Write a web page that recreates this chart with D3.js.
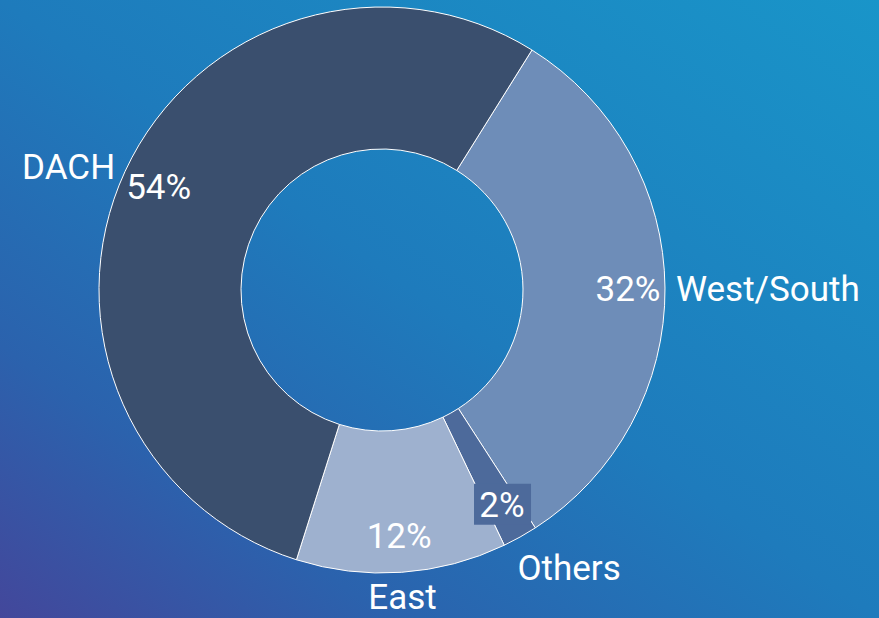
<!DOCTYPE html>
<html>
<head>
<meta charset="utf-8">
<script src="https://cdn.jsdelivr.net/npm/d3@7"></script>
<style>
  html, body { margin: 0; padding: 0; overflow: hidden; }
  svg { display: block; }
  text { font-family: Roboto, "Open Sans", sans-serif; fill: #fff; }
</style>
</head>
<body>
<svg id="chart"></svg>
<script>
// regions, in drawing order (clockwise from the DACH / West-South edge)
const regions = ['West/South', 'Others', 'East', 'DACH'];
const shares = [32, 2, 12, 54];
const colors = ['#6e8db8', '#4d6a9b', '#9eb1cf', '#3a4f6e'];

const width = 879;
const height = 618;
const cx = 382, cy = 290;
const outerR = 283, innerR = 141;

const svg = d3.select('#chart')
  .attr('width', width)
  .attr('height', height);

// background gradient, purple bottom-left to light blue top-right
const grad = svg.append('defs').append('linearGradient')
  .attr('id', 'bg')
  .attr('x1', '0%').attr('y1', '100%')
  .attr('x2', '100%').attr('y2', '0%');
grad.append('stop').attr('offset', '0%').attr('stop-color', '#43479b');
grad.append('stop').attr('offset', '22%').attr('stop-color', '#2b62ad');
grad.append('stop').attr('offset', '50%').attr('stop-color', '#1e7bbc');
grad.append('stop').attr('offset', '100%').attr('stop-color', '#1995c9');

svg.append('rect')
  .attr('width', width)
  .attr('height', height)
  .attr('fill', 'url(#bg)');

const data = regions.map((name, i) => ({ name, value: shares[i], color: colors[i] }));

const startA = 32 * Math.PI / 180;
const pie = d3.pie()
  .value(d => d.value)
  .sort(null)
  .startAngle(startA)
  .endAngle(startA + 2 * Math.PI);

const arcs = pie(data);

const arc = d3.arc().innerRadius(innerR).outerRadius(outerR);

const g = svg.append('g').attr('transform', `translate(${cx},${cy})`);

g.selectAll('path.slice')
  .data(arcs)
  .join('path')
  .attr('class', 'slice')
  .attr('d', arc)
  .attr('fill', d => d.data.color)
  .attr('stroke', '#fff')
  .attr('stroke-width', 1);

const midAngle = d => (d.startAngle + d.endAngle) / 2;
const pt = (d, r) => [r * Math.sin(midAngle(d)), -r * Math.cos(midAngle(d))];

// percentage labels inside the ring
const pctR = 246;
const pct = g.selectAll('g.pct')
  .data(arcs)
  .join('g')
  .attr('class', 'pct')
  .attr('transform', d => `translate(${pt(d, pctR)})`);

pct.filter(d => d.data.value < 5)
  .append('rect')
  .attr('x', -28).attr('y', -21)
  .attr('width', 57).attr('height', 41)
  .attr('fill', d => d.data.color);

pct.append('text')
  .attr('text-anchor', 'middle')
  .attr('dy', '0.36em')
  .attr('font-size', 35)
  .text(d => d.data.value + '%');

// region names outside the ring
const nameR = 294;
const diag = d => Math.cos(midAngle(d)) < -0.5 && Math.sin(midAngle(d)) > 0.3;
g.selectAll('text.name')
  .data(arcs)
  .join('text')
  .attr('class', 'name')
  .attr('font-size', 35)
  .attr('x', d => pt(d, nameR)[0] - (diag(d) ? 8 : 0))
  .attr('y', d => pt(d, nameR)[1] + (diag(d) ? 7 : 0))
  .attr('text-anchor', d => {
    const s = Math.sin(midAngle(d));
    return Math.abs(s) < 0.3 ? 'middle' : (s > 0 ? 'start' : 'end');
  })
  .attr('dy', d => Math.cos(midAngle(d)) < -0.5 ? '0.74em' : '0.36em')
  .text(d => d.data.name);
</script>
</body>
</html>
